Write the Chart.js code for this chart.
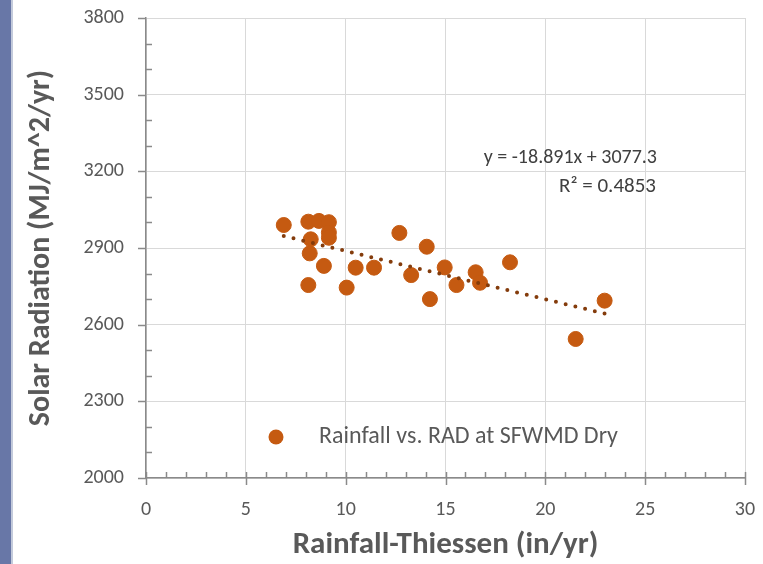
<!DOCTYPE html>
<html>
<head>
<meta charset="utf-8">
<script src="https://cdn.jsdelivr.net/npm/chart.js@4/dist/chart.umd.min.js"></script>
<style>
  html, body { margin: 0; padding: 0; background: #fff; }
  .wrap { position: relative; width: 763px; height: 564px; overflow: hidden; }
  .strip { position: absolute; left: 0; top: 0; width: 11px; height: 564px; background: #6877a7; border-right: 2px solid #c3cadb; }
  canvas { position: absolute; left: 0; top: 0; }
</style>
</head>
<body>
<div class="wrap">
  <div class="strip"></div>
  <canvas id="grafik" width="763" height="564"></canvas>
</div>
<script>
// Data curah hujan (in/yr) dan radiasi matahari (MJ/m^2/yr)
const rainfall  = [6.9, 8.13, 8.66, 9.16, 9.16, 9.16, 8.25, 8.2, 8.91, 8.13, 10.05, 10.5, 11.42, 12.69, 14.06, 13.28, 14.96, 14.22, 15.55, 16.51, 16.73, 18.23, 22.97, 21.52];
const radiation = [2990, 3003, 3006, 3001, 2961, 2940, 2934, 2879, 2830, 2755, 2745, 2823, 2823, 2959, 2905, 2794, 2824, 2700, 2755, 2805, 2764, 2844, 2694, 2544];

// Garis tren (dari persamaan di gambar)
const trendSlope = -18.891;
const trendIntercept = 3077.3;
const trendRange = [6.9, 23];

// Label sumbu
const xTicks = [0, 5, 10, 15, 20, 25, 30];
const yTicks = [2000, 2300, 2600, 2900, 3200, 3500, 3800];

const seriesLabel = 'Rainfall vs. RAD at SFWMD Dry';
const eqText = 'y = -18.891x + 3077.3';
const r2Text = 'R² = 0.4853';

const FONT = 'Carlito, Lato, sans-serif';
const axisColor = '#8a8a8a';
const textColor = '#595959';

Chart.defaults.font.family = FONT;
Chart.defaults.font.size = 20;

const pointsData = rainfall.map((x, i) => ({ x: x, y: radiation[i] }));
const trendData = trendRange.map(x => ({ x: x, y: trendSlope * x + trendIntercept }));

// Plugin untuk tanda tick, legenda dan persamaan
const extrasPlugin = {
    id: 'extras',
    afterDraw(chart) {
        const ctx = chart.ctx;
        const xs = chart.scales.x;
        const ys = chart.scales.y;
        const area = chart.chartArea;
        ctx.save();
        ctx.strokeStyle = axisColor;
        ctx.lineWidth = 1.5;
        ctx.beginPath();
        // tick sumbu y
        for (let v = 2000; v <= 3800; v += 100) {
            const py = Math.round(ys.getPixelForValue(v)) + 0.5;
            if (yTicks.includes(v)) {
                ctx.moveTo(area.left - 8, py);
                ctx.lineTo(area.left, py);
            } else {
                ctx.moveTo(area.left, py);
                ctx.lineTo(area.left + 6, py);
            }
        }
        // tick sumbu x
        for (let v = 0; v <= 30; v += 1) {
            const px = Math.round(xs.getPixelForValue(v)) + 0.5;
            if (xTicks.includes(v)) {
                ctx.moveTo(px, area.bottom - 6);
                ctx.lineTo(px, area.bottom + 7);
            } else {
                ctx.moveTo(px, area.bottom - 6);
                ctx.lineTo(px, area.bottom);
            }
        }
        ctx.stroke();

        // legenda
        ctx.fillStyle = '#c55a11';
        ctx.beginPath();
        ctx.arc(276, 437, 7.5, 0, Math.PI * 2);
        ctx.fill();
        ctx.fillStyle = textColor;
        ctx.font = '24px ' + FONT;
        ctx.textAlign = 'left';
        ctx.textBaseline = 'middle';
        ctx.fillText(seriesLabel, 319, 437);

        // persamaan garis tren
        ctx.fillStyle = '#404040';
        ctx.font = '20px ' + FONT;
        ctx.textAlign = 'right';
        ctx.fillText(eqText, 657, 158);
        ctx.font = '21px ' + FONT;
        ctx.fillText(r2Text, 656, 187);
        ctx.restore();
    }
};

const ctx = document.getElementById('grafik').getContext('2d');
new Chart(ctx, {
    type: 'scatter',
    data: {
        datasets: [
            {
                type: 'line',
                label: 'Linear',
                data: trendData,
                borderColor: '#843c0c',
                borderWidth: 4,
                borderDash: [0, 10],
                borderCapStyle: 'round',
                pointRadius: 0,
                fill: false,
                order: 0
            },
            {
                label: seriesLabel,
                data: pointsData,
                backgroundColor: '#c55a11',
                borderColor: '#c55a11',
                borderWidth: 1,
                pointRadius: 7.5,
                order: 1
            }
        ]
    },
    options: {
        responsive: false,
        animation: false,
        layout: { padding: { left: 0, top: 18, right: 18, bottom: 0 } },
        plugins: {
            legend: { display: false },
            tooltip: { enabled: false }
        },
        scales: {
            x: {
                type: 'linear',
                min: 0,
                max: 30,
                afterBuildTicks: s => { s.ticks = xTicks.map(v => ({ value: v })); },
                afterFit: s => { s.height = 86; s.paddingLeft = 0; s.paddingRight = 0; },
                grid: { color: '#d9d9d9', lineWidth: 1, drawTicks: false },
                border: { color: axisColor, width: 1.5 },
                ticks: {
                    color: textColor,
                    font: { family: FONT, size: 20 },
                    padding: 20,
                    maxRotation: 0,
                    autoSkip: false,
                    callback: v => String(v)
                },
                title: {
                    display: true,
                    text: 'Rainfall-Thiessen (in/yr)',
                    color: textColor,
                    font: { family: FONT, size: 31, weight: 'bold' },
                    padding: { top: 0, bottom: 0 }
                }
            },
            y: {
                min: 2000,
                max: 3800,
                afterBuildTicks: s => { s.ticks = yTicks.map(v => ({ value: v })); },
                afterFit: s => { s.width = 146; s.paddingTop = 0; s.paddingBottom = 0; },
                grid: { color: '#d9d9d9', lineWidth: 1, drawTicks: false },
                border: { color: axisColor, width: 1.5 },
                ticks: {
                    color: textColor,
                    font: { family: FONT, size: 20 },
                    padding: 22,
                    autoSkip: false,
                    callback: v => String(v)
                },
                title: {
                    display: true,
                    text: 'Solar Radiation (MJ/m^2/yr)',
                    color: textColor,
                    font: { family: FONT, size: 30, weight: 'bold' },
                    padding: { top: 23, bottom: 0 }
                }
            }
        }
    },
    plugins: [extrasPlugin]
});
</script>
</body>
</html>
